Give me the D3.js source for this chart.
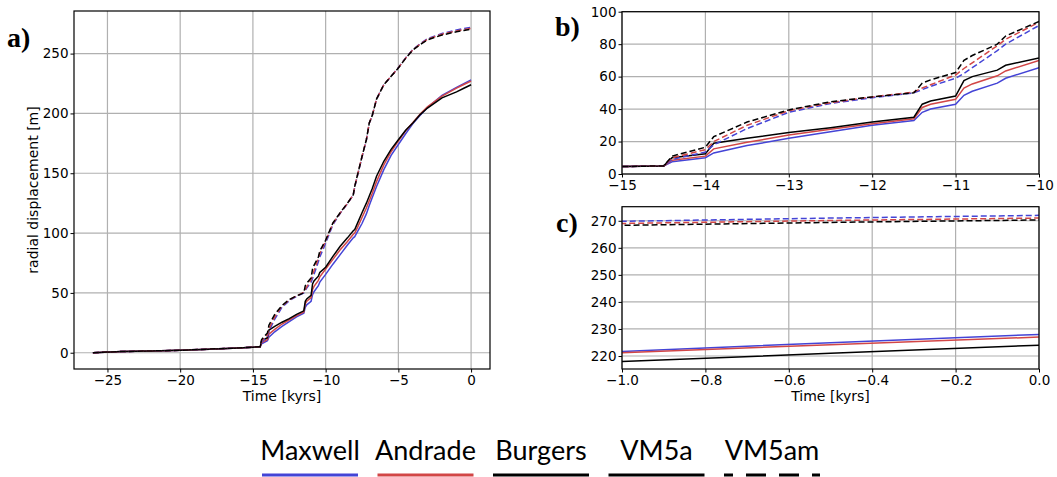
<!DOCTYPE html>
<html>
<head>
<meta charset="utf-8">
<script src="https://cdn.jsdelivr.net/npm/d3@7"></script>
<style>
  body { margin: 0; background: #fff; }
  svg { display: block; }
  .tick text { font-family: "DejaVu Sans", sans-serif; font-size: 13.5px; fill: #000; }
  .domain { display: none; }
</style>
</head>
<body>
<svg id="chart" width="1057" height="477"></svg>
<script>
// time axis shared by every series [kyrs]
const times = [-26, -24, -22, -20, -18, -16, -15, -14.5, -14.4, -14.0, -13.9, -13.5, -13, -12.5, -12, -11.5,
  -11.4, -11.3, -11.0, -10.9, -10.8, -10.5, -10.4, -10, -9.5, -9, -8.5, -8.1, -8, -7.8, -7.5, -7.2, -7, -6.8,
  -6.5, -6, -5.5, -5, -4.5, -4, -3.5, -3, -2, -1, -0.5, 0];

// radial displacement [m], VM5a (solid)
const maxwellVM5a = [0, 1, 1.5, 2, 3, 4, 4.6, 5, 7.5, 10, 13, 17.5, 22, 26, 30, 33, 38, 40, 43, 48.5, 51, 56, 59, 65.5,
  74, 82, 90, 96, 97, 101.5, 108, 116, 123, 129.5, 139, 153, 165, 174, 183, 191.5, 198.5, 205, 215, 221.7, 224.9, 228];
const andradeVM5a = [0, 1, 1.5, 2, 3, 4, 4.6, 5, 8.5, 11, 15.5, 19.5, 24, 27.5, 31, 34, 41, 43, 46, 53, 55.5, 60.5, 63.5, 70,
  78, 86, 93, 99, 100, 105, 113, 121, 127, 133, 143, 157, 168, 177, 185.5, 192.5, 199.5, 205.5, 214.5, 221.2, 224.2, 227];
const burgersVM5a = [0, 1, 1.5, 2, 3, 4, 4.6, 5, 10, 12.5, 19, 22, 25.5, 28.5, 32, 35, 43, 45, 48, 57.5, 60, 64, 67, 71.5,
  80.5, 89, 96, 102, 103, 108.5, 117, 125, 131, 137, 147.5, 160, 170, 178, 186, 192, 199, 204.5, 213, 218, 221, 224];

// radial displacement [m], VM5am (dashed)
const maxwellVM5am = [0, 1, 1.5, 2, 3, 4, 4.6, 5, 9, 13.5, 18, 28, 38, 43.5, 47, 50, 52, 54, 59, 62, 65.5, 76, 80, 91.5,
  107, 116.5, 124.5, 131.8, 138.5, 148.5, 163.5, 177.8, 191.8, 198, 212, 224, 231, 238.3, 246.4, 253.5, 258.3, 262.5, 266.8, 269.8, 271, 272];
const andradeVM5am = [0, 1, 1.5, 2, 3, 4, 4.6, 5, 10, 15, 20, 30, 39, 44, 47.5, 50.5, 53, 55, 61, 65, 68.5, 79, 83, 93.5,
  108, 116.8, 124.8, 132, 139, 149, 164, 178, 192, 198, 212, 224, 231, 238.2, 246.2, 253.2, 257.9, 262, 266.2, 269, 270.1, 271];
const burgersVM5am = [0, 1, 1.5, 2, 3, 4, 4.6, 5, 11, 16.5, 23, 32, 39.5, 44.5, 47.5, 50, 56, 58, 62.5, 70, 73, 80, 85, 94,
  108.5, 117, 125, 132, 139, 149, 164, 178, 192, 198, 212, 224, 231, 238, 246, 253, 257.6, 261.5, 265.5, 268.3, 269.4, 270.3];

const xTicksA = [-25, -20, -15, -10, -5, 0];
const yTicksA = [0, 50, 100, 150, 200, 250];
const xTicksB = [-15, -14, -13, -12, -11, -10];
const yTicksB = [0, 20, 40, 60, 80, 100];
const xTicksC = [-1.0, -0.8, -0.6, -0.4, -0.2, 0.0];
const yTicksC = [220, 230, 240, 250, 260, 270];

const legendLabels = ["Maxwell", "Andrade", "Burgers", "VM5a", "VM5am"];

const BLUE = "#4444d6", RED = "#d24646", BLACK = "#000";

const series = [
  { vals: maxwellVM5a, color: BLUE, dash: null },
  { vals: andradeVM5a, color: RED, dash: null },
  { vals: burgersVM5a, color: BLACK, dash: null },
  { vals: maxwellVM5am, color: BLUE, dash: "6,3" },
  { vals: andradeVM5am, color: RED, dash: "6,3" },
  { vals: burgersVM5am, color: BLACK, dash: "6,3" }
];

const svg = d3.select("#chart");
svg.append("rect").attr("width", 1057).attr("height", 477).attr("fill", "#fff");

function panel(id, box, xDomain, yDomain, xTicks, yTicks, xFmt, yFmt) {
  const x = d3.scaleLinear().domain(xDomain).range([box.x0, box.x1]);
  const y = d3.scaleLinear().domain(yDomain).range([box.y1, box.y0]);

  svg.append("clipPath").attr("id", "clip-" + id)
    .append("rect").attr("x", box.x0).attr("y", box.y0)
    .attr("width", box.x1 - box.x0).attr("height", box.y1 - box.y0);

  const g = svg.append("g");

  // grid
  g.selectAll(".gx").data(xTicks).enter().append("line")
    .attr("x1", d => x(d)).attr("x2", d => x(d))
    .attr("y1", box.y0).attr("y2", box.y1)
    .attr("stroke", "#b0b0b0").attr("stroke-width", 1.2);
  g.selectAll(".gy").data(yTicks).enter().append("line")
    .attr("y1", d => y(d)).attr("y2", d => y(d))
    .attr("x1", box.x0).attr("x2", box.x1)
    .attr("stroke", "#b0b0b0").attr("stroke-width", 1.2);

  // curves
  const line = d3.line().x((d, i) => x(times[i])).y(d => y(d));
  const lines = g.append("g").attr("clip-path", `url(#clip-${id})`);
  series.forEach(s => {
    lines.append("path")
      .attr("d", line(s.vals))
      .attr("fill", "none")
      .attr("stroke", s.color)
      .attr("stroke-width", 1.5)
      .attr("stroke-dasharray", s.dash);
  });

  // axes
  g.append("g").attr("transform", `translate(0,${box.y1})`)
    .call(d3.axisBottom(x).tickValues(xTicks).tickFormat(xFmt).tickSize(3.5).tickPadding(3));
  g.append("g").attr("transform", `translate(${box.x0},0)`)
    .call(d3.axisLeft(y).tickValues(yTicks).tickFormat(yFmt).tickSize(3.5).tickPadding(2));
  g.selectAll(".tick line").attr("stroke", "#000").attr("stroke-width", 1);

  // frame
  g.append("rect").attr("x", box.x0).attr("y", box.y0)
    .attr("width", box.x1 - box.x0).attr("height", box.y1 - box.y0)
    .attr("fill", "none").attr("stroke", "#000").attr("stroke-width", 1.2);
  return g;
}

const fmtInt = d3.format("d");
const fmt1 = d3.format(".1f");

panel("a", { x0: 74, x1: 490, y0: 11, y1: 369 }, [-27.3, 1.3], [-13.6, 285.6], xTicksA, yTicksA, fmtInt, fmtInt);
panel("b", { x0: 622, x1: 1039, y0: 11.7, y1: 174 }, [-15, -10], [0, 100], xTicksB, yTicksB, fmtInt, fmtInt);
panel("c", { x0: 622, x1: 1039, y0: 206.7, y1: 369 }, [-1, 0], [215.2, 275.2], xTicksC, yTicksC, fmt1, fmtInt);

// axis labels
const labelFont = "DejaVu Sans, sans-serif";
svg.append("text").attr("x", 282).attr("y", 401).attr("text-anchor", "middle")
  .attr("font-family", labelFont).attr("font-size", 14).text("Time [kyrs]");
svg.append("text").attr("x", 830.5).attr("y", 401).attr("text-anchor", "middle")
  .attr("font-family", labelFont).attr("font-size", 14).text("Time [kyrs]");
svg.append("text").attr("transform", "translate(38,190) rotate(-90)").attr("text-anchor", "middle")
  .attr("font-family", labelFont).attr("font-size", 14).text("radial displacement [m]");

// panel letters
const letters = [["a)", 7, 47], ["b)", 555, 36], ["c)", 556, 232]];
letters.forEach(l => {
  svg.append("text").attr("x", l[1]).attr("y", l[2])
    .attr("font-family", "Liberation Serif, serif").attr("font-weight", "bold")
    .attr("font-size", 28).text(l[0]);
});

// legend
const legendX = d3.scalePoint().domain(legendLabels).range([310, 772]);
const legendStyle = { Maxwell: [BLUE, null], Andrade: [RED, null], Burgers: [BLACK, null], VM5a: [BLACK, null], VM5am: [BLACK, "20,13"] };
const lg = svg.append("g");
legendLabels.forEach(name => {
  const cx = legendX(name);
  lg.append("text").attr("x", cx).attr("y", 460).attr("text-anchor", "middle")
    .attr("font-family", "Lato, sans-serif").attr("font-size", 27).text(name);
  lg.append("line").attr("x1", cx - 48).attr("x2", cx + 48).attr("y1", 475).attr("y2", 475)
    .attr("stroke", legendStyle[name][0]).attr("stroke-width", 3)
    .attr("stroke-dasharray", legendStyle[name][1])
    .attr("stroke-dashoffset", legendStyle[name][1] ? 11 : null);
});
</script>
</body>
</html>
